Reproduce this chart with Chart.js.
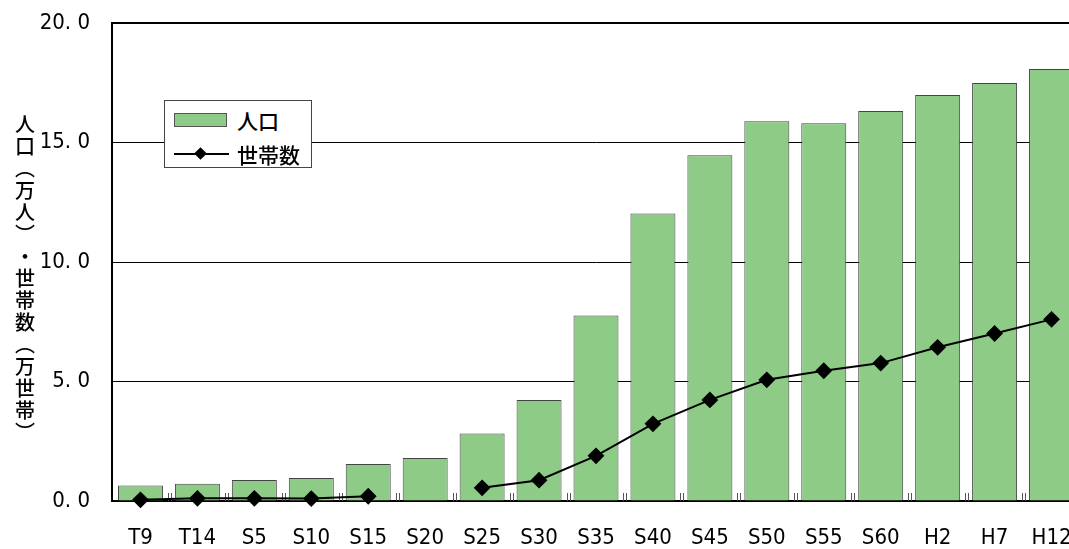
<!DOCTYPE html>
<html>
<head>
<meta charset="utf-8">
<script src="https://cdn.jsdelivr.net/npm/chart.js@4.4.1/dist/chart.umd.min.js"></script>
<style>
  html, body { margin: 0; padding: 0; overflow: hidden; background: #fff; }
  #wrap { position: relative; width: 1080px; height: 549px; }
  #chart { display: block; }
  #legend {
    position: absolute; left: 164px; top: 100px; width: 146px; height: 66px;
    border: 1px solid #444; background: #fff;
    font-family: "Noto Sans CJK JP", sans-serif; font-weight: 500; font-size: 21px; color: #000;
  }
  #legend .sw { position: absolute; left: 9px; top: 12px; width: 51px; height: 12px; background: #8ecb87; border: 1px solid #555; }
  #legend .ln { position: absolute; left: 9px; top: 52px; width: 55px; height: 2px; background: #000; }
  #legend .dm { position: absolute; left: 31px; top: 48px; width: 9px; height: 9px; background: #000; transform: rotate(45deg); }
  #legend .t1 { position: absolute; left: 72px; top: 6px; line-height: 26px; }
  #legend .t2 { position: absolute; left: 72px; top: 40px; line-height: 26px; }
</style>
</head>
<body>
<div id="wrap">
  <canvas id="chart" width="1080" height="549"></canvas>
  <div id="legend">
    <div class="sw"></div><span class="t1">人口</span>
    <div class="ln"></div><div class="dm"></div><span class="t2">世帯数</span>
  </div>
</div>
<script>
// データ ----------------------------------------
var categories = ['T9', 'T14', 'S5', 'S10', 'S15', 'S20', 'S25', 'S30', 'S35', 'S40', 'S45', 'S50', 'S55', 'S60', 'H2', 'H7', 'H12'];
var population = [0.65, 0.72, 0.88, 0.96, 1.55, 1.80, 2.82, 4.23, 7.76, 12.03, 14.47, 15.89, 15.81, 16.32, 16.99, 17.49, 18.08];
var households = [0.05, 0.11, 0.11, 0.10, 0.20, null, 0.55, 0.87, 1.89, 3.23, 4.23, 5.07, 5.45, 5.77, 6.43, 7.01, 7.60];
var yTickLabels = ['0. 0', '5. 0', '10. 0', '15. 0', '20. 0'];
var yTitle = ['人', '口', '︵', '万', '人', '︶', '・', '世', '帯', '数', '︵', '万', '世', '帯', '︶'];

var tickFont = '"Liberation Sans Narrow", "DejaVu Sans Condensed", sans-serif';

// 縦書きの軸タイトル
var verticalTitle = {
  id: 'verticalTitle',
  afterDraw: function(chart) {
    var c = chart.ctx;
    c.save();
    c.fillStyle = '#000';
    c.font = '500 20px "Noto Sans CJK JP"';
    c.textAlign = 'center';
    c.textBaseline = 'middle';
    for (var i = 0; i < yTitle.length; i++) {
      c.fillText(yTitle[i], 25, 124 + i * 22);
    }
    c.restore();
  }
};

// 目盛り（カテゴリの境目）
var catTicks = {
  id: 'catTicks',
  beforeDatasetsDraw: function(chart) {
    var x = chart.scales.x, c = chart.ctx, b = chart.chartArea.bottom;
    c.save();
    c.strokeStyle = '#555';
    c.lineWidth = 1;
    for (var i = 0; i < categories.length - 1; i++) {
      var px = Math.round((x.getPixelForValue(i) + x.getPixelForValue(i + 1)) / 2);
      c.beginPath();
      c.moveTo(px - 0.5, b); c.lineTo(px - 0.5, b - 8);
      c.moveTo(px + 2.5, b); c.lineTo(px + 2.5, b - 8);
      c.stroke();
    }
    c.restore();
  }
};

var ctx = document.getElementById('chart');
var chart = new Chart(ctx, {
  type: 'bar',
  data: {
    labels: categories,
    datasets: [{
      type: 'line',
      label: '世帯数',
      data: households,
      borderColor: '#000',
      backgroundColor: '#000',
      borderWidth: 2,
      pointStyle: 'rectRot',
      pointRadius: 7,
      pointHoverRadius: 7,
      spanGaps: false,
      tension: 0,
      clip: false,
      order: 0
    }, {
      type: 'bar',
      label: '人口',
      data: population,
      backgroundColor: '#8ecb87',
      borderColor: '#444',
      borderWidth: 1,
      barPercentage: 0.79,
      categoryPercentage: 1,
      order: 1
    }]
  },
  options: {
    responsive: false,
    animation: false,
    layout: { autoPadding: false, padding: { top: 23, left: 0, right: 0, bottom: 0 } },
    plugins: {
      legend: { display: false },
      tooltip: { enabled: false }
    },
    scales: {
      x: {
        grid: { display: false, drawTicks: false },
        border: { display: true, color: '#000', width: 2 },
        ticks: {
          color: '#000',
          padding: 24,
          maxRotation: 0,
          autoSkip: false,
          font: { family: tickFont, size: 22 }
        },
        afterFit: function(scale) {
          scale.height = 48;
          scale.paddingLeft = 0;
          scale.paddingRight = 0;
        }
      },
      y: {
        min: 0,
        max: 20,
        ticks: {
          stepSize: 5,
          color: '#000',
          padding: 22,
          font: { family: tickFont, size: 22 },
          callback: function(value, index) { return yTickLabels[index]; }
        },
        grid: {
          drawTicks: false,
          color: '#000',
          lineWidth: function(c) { return c.tick && c.tick.value === 20 ? 2 : 1; }
        },
        border: { display: true, color: '#000', width: 2 },
        afterFit: function(scale) {
          scale.width = 112;
          scale.paddingTop = 0;
          scale.paddingBottom = 0;
        }
      }
    }
  },
  plugins: [verticalTitle, catTicks]
});
</script>
</body>
</html>
